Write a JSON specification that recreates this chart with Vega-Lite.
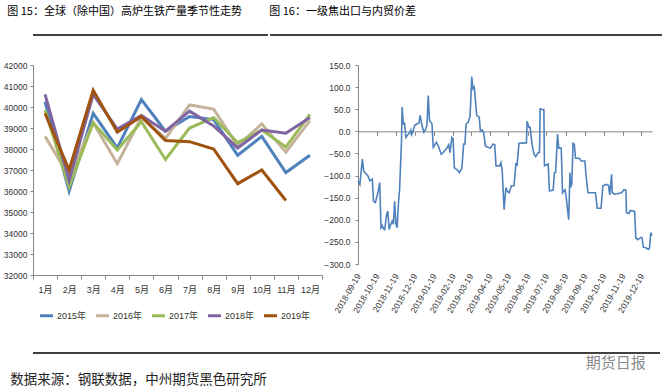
{
  "$schema": "https://vega.github.io/schema/vega-lite/v6.json",
  "background": "white",
  "padding": {"left": 3, "top": 6, "right": 5, "bottom": 4},
  "config": {
    "view": {"stroke": null},
    "font": "Liberation Sans, Noto Sans CJK SC",
    "axis": {"grid": false, "domainColor": "#868686", "tickColor": "#868686", "labelColor": "#333333", "labelFont": "Liberation Sans, Noto Sans CJK SC"}
  },
  "title": {"text": "数据来源：钢联数据，中州期货黑色研究所", "orient": "bottom", "anchor": "start", "font": "Noto Sans CJK SC", "fontSize": 13.5, "fontWeight": "normal", "color": "#222222", "dx": 7, "offset": 2},
  "spacing": 25,
  "align": "none",
  "resolve": {"scale": {"color": "independent"}, "legend": {"color": "independent"}},
  "vconcat": [
    {
      "spacing": 0,
      "hconcat": [
        {
          "width": 235, "height": 1,
          "data": {"values": [{"k": 1}]},
          "title": {"text": "图 15：全球（除中国）高炉生铁产量季节性走势", "anchor": "start", "dx": -25, "offset": 17, "font": "Noto Sans CJK SC", "fontSize": 11, "fontWeight": "normal", "color": "#000000"},
          "mark": {"type": "rule", "color": "#000000", "strokeWidth": 1.5},
          "encoding": {"y": {"datum": 1, "type": "quantitative", "scale": {"domain": [0, 1]}, "axis": null}}
        },
        {
          "width": 392, "height": 1,
          "data": {"values": [{"k": 1}]},
          "title": {"text": "图 16：一级焦出口与内贸价差", "anchor": "start", "dx": 0, "offset": 17, "font": "Noto Sans CJK SC", "fontSize": 11, "fontWeight": "normal", "color": "#000000"},
          "mark": {"type": "rule", "color": "#000000", "strokeWidth": 1.5},
          "encoding": {"y": {"datum": 1, "type": "quantitative", "scale": {"domain": [0, 1]}, "axis": null}}
        }
      ]
    },
    {
      "spacing": 0,
      "resolve": {"scale": {"color": "independent"}, "legend": {"color": "independent"}},
      "hconcat": [
        {
          "width": 289, "height": 210,
          "data": {"values": [
            {"month": "1月", "year": "2015年", "value": 40250}, {"month": "2月", "year": "2015年", "value": 36000}, {"month": "3月", "year": "2015年", "value": 39700}, {"month": "4月", "year": "2015年", "value": 38050}, {"month": "5月", "year": "2015年", "value": 40350}, {"month": "6月", "year": "2015年", "value": 38850}, {"month": "7月", "year": "2015年", "value": 39550}, {"month": "8月", "year": "2015年", "value": 39400}, {"month": "9月", "year": "2015年", "value": 37700}, {"month": "10月", "year": "2015年", "value": 38600}, {"month": "11月", "year": "2015年", "value": 36880}, {"month": "12月", "year": "2015年", "value": 37700},
            {"month": "1月", "year": "2016年", "value": 38600}, {"month": "2月", "year": "2016年", "value": 36700}, {"month": "3月", "year": "2016年", "value": 39250}, {"month": "4月", "year": "2016年", "value": 37300}, {"month": "5月", "year": "2016年", "value": 39500}, {"month": "6月", "year": "2016年", "value": 38500}, {"month": "7月", "year": "2016年", "value": 40100}, {"month": "8月", "year": "2016年", "value": 39900}, {"month": "9月", "year": "2016年", "value": 38150}, {"month": "10月", "year": "2016年", "value": 39200}, {"month": "11月", "year": "2016年", "value": 37850}, {"month": "12月", "year": "2016年", "value": 39350},
            {"month": "1月", "year": "2017年", "value": 39850}, {"month": "2月", "year": "2017年", "value": 36200}, {"month": "3月", "year": "2017年", "value": 39250}, {"month": "4月", "year": "2017年", "value": 37950}, {"month": "5月", "year": "2017年", "value": 39300}, {"month": "6月", "year": "2017年", "value": 37500}, {"month": "7月", "year": "2017年", "value": 39000}, {"month": "8月", "year": "2017年", "value": 39500}, {"month": "9月", "year": "2017年", "value": 38300}, {"month": "10月", "year": "2017年", "value": 38900}, {"month": "11月", "year": "2017年", "value": 38100}, {"month": "12月", "year": "2017年", "value": 39650},
            {"month": "1月", "year": "2018年", "value": 40600}, {"month": "2月", "year": "2018年", "value": 36500}, {"month": "3月", "year": "2018年", "value": 40600}, {"month": "4月", "year": "2018年", "value": 38950}, {"month": "5月", "year": "2018年", "value": 39600}, {"month": "6月", "year": "2018年", "value": 38850}, {"month": "7月", "year": "2018年", "value": 39800}, {"month": "8月", "year": "2018年", "value": 39100}, {"month": "9月", "year": "2018年", "value": 38050}, {"month": "10月", "year": "2018年", "value": 38900}, {"month": "11月", "year": "2018年", "value": 38750}, {"month": "12月", "year": "2018年", "value": 39500},
            {"month": "1月", "year": "2019年", "value": 39700}, {"month": "2月", "year": "2019年", "value": 37000}, {"month": "3月", "year": "2019年", "value": 40800}, {"month": "4月", "year": "2019年", "value": 38800}, {"month": "5月", "year": "2019年", "value": 39550}, {"month": "6月", "year": "2019年", "value": 38400}, {"month": "7月", "year": "2019年", "value": 38350}, {"month": "8月", "year": "2019年", "value": 38000}, {"month": "9月", "year": "2019年", "value": 36350}, {"month": "10月", "year": "2019年", "value": 37000}, {"month": "11月", "year": "2019年", "value": 35550}
          ]},
          "mark": {"type": "line", "strokeWidth": 3},
          "encoding": {
            "x": {"field": "month", "type": "ordinal", "sort": ["1月", "2月", "3月", "4月", "5月", "6月", "7月", "8月", "9月", "10月", "11月", "12月"],
                  "scale": {"type": "band", "paddingInner": 0, "paddingOuter": 0},
                  "axis": {"title": null, "labelAngle": 0, "tickBand": "extent", "tickSize": 4, "labelPadding": 6, "labelFontSize": 9}},
            "y": {"field": "value", "type": "quantitative",
                  "scale": {"domain": [32000, 42000], "nice": false, "zero": false},
                  "axis": {"values": [32000, 33000, 34000, 35000, 36000, 37000, 38000, 39000, 40000, 41000, 42000], "format": "d", "tickSize": 3, "labelPadding": 3, "labelFontSize": 8.5, "title": null}},
            "color": {"field": "year", "type": "nominal",
                      "scale": {"domain": ["2015年", "2016年", "2017年", "2018年", "2019年"], "range": ["#4F81BD", "#C4B39A", "#9BBB59", "#8064A2", "#A0520F"]},
                      "legend": {"orient": "bottom", "direction": "horizontal", "title": null, "symbolType": "stroke", "symbolSize": 170, "symbolStrokeWidth": 3, "labelFontSize": 9, "labelColor": "#333333", "columnPadding": 2, "offset": 8, "labelOffset": 2, "padding": 5}}
          }
        },
        {
          "width": 294, "height": 199,
          "data": {"values": [
            {"date": "2018-09-19", "v": -112}, {"date": "2018-09-22", "v": -120}, {"date": "2018-09-26", "v": -63}, {"date": "2018-09-28", "v": -89}, {"date": "2018-09-30", "v": -93},
            {"date": "2018-10-05", "v": -101}, {"date": "2018-10-08", "v": -112}, {"date": "2018-10-12", "v": -108}, {"date": "2018-10-14", "v": -158}, {"date": "2018-10-17", "v": -161}, {"date": "2018-10-21", "v": -139}, {"date": "2018-10-24", "v": -116}, {"date": "2018-10-26", "v": -218}, {"date": "2018-10-28", "v": -213}, {"date": "2018-10-30", "v": -220},
            {"date": "2018-11-01", "v": -222}, {"date": "2018-11-04", "v": -188}, {"date": "2018-11-06", "v": -180}, {"date": "2018-11-08", "v": -222}, {"date": "2018-11-10", "v": -213}, {"date": "2018-11-13", "v": -203}, {"date": "2018-11-15", "v": -210}, {"date": "2018-11-17", "v": -158}, {"date": "2018-11-19", "v": -210}, {"date": "2018-11-21", "v": -218}, {"date": "2018-11-23", "v": -165}, {"date": "2018-11-25", "v": -130}, {"date": "2018-11-28", "v": -21}, {"date": "2018-11-29", "v": 55},
            {"date": "2018-12-01", "v": 17}, {"date": "2018-12-03", "v": 18}, {"date": "2018-12-05", "v": -14}, {"date": "2018-12-08", "v": -8}, {"date": "2018-12-11", "v": -3}, {"date": "2018-12-13", "v": 3}, {"date": "2018-12-14", "v": -8}, {"date": "2018-12-16", "v": -3}, {"date": "2018-12-19", "v": 13}, {"date": "2018-12-23", "v": 17}, {"date": "2018-12-26", "v": 18}, {"date": "2018-12-28", "v": 36}, {"date": "2018-12-31", "v": 13},
            {"date": "2019-01-03", "v": -2}, {"date": "2019-01-06", "v": 5}, {"date": "2019-01-08", "v": 15}, {"date": "2019-01-10", "v": 81}, {"date": "2019-01-12", "v": 24}, {"date": "2019-01-16", "v": 17}, {"date": "2019-01-18", "v": -36}, {"date": "2019-01-20", "v": -32}, {"date": "2019-01-23", "v": -25}, {"date": "2019-01-26", "v": -32}, {"date": "2019-01-31", "v": -52},
            {"date": "2019-02-03", "v": -48}, {"date": "2019-02-08", "v": -40}, {"date": "2019-02-12", "v": -30}, {"date": "2019-02-14", "v": -48}, {"date": "2019-02-17", "v": -14}, {"date": "2019-02-19", "v": -17}, {"date": "2019-02-21", "v": -82}, {"date": "2019-02-27", "v": -89},
            {"date": "2019-03-01", "v": -93}, {"date": "2019-03-05", "v": -84}, {"date": "2019-03-08", "v": -29}, {"date": "2019-03-10", "v": -29}, {"date": "2019-03-12", "v": 17}, {"date": "2019-03-15", "v": 20}, {"date": "2019-03-18", "v": 32}, {"date": "2019-03-19", "v": 55}, {"date": "2019-03-21", "v": 124}, {"date": "2019-03-23", "v": 96}, {"date": "2019-03-25", "v": 100}, {"date": "2019-03-27", "v": 70}, {"date": "2019-03-29", "v": 36},
            {"date": "2019-04-02", "v": 32}, {"date": "2019-04-04", "v": 0}, {"date": "2019-04-07", "v": 3}, {"date": "2019-04-09", "v": -2}, {"date": "2019-04-12", "v": -33}, {"date": "2019-04-16", "v": -36}, {"date": "2019-04-20", "v": -38}, {"date": "2019-04-24", "v": -29}, {"date": "2019-04-27", "v": -30}, {"date": "2019-04-29", "v": -78},
            {"date": "2019-05-05", "v": -78}, {"date": "2019-05-07", "v": -71}, {"date": "2019-05-09", "v": -89}, {"date": "2019-05-12", "v": -177}, {"date": "2019-05-15", "v": -127}, {"date": "2019-05-17", "v": -135}, {"date": "2019-05-20", "v": -139}, {"date": "2019-05-24", "v": -123}, {"date": "2019-05-28", "v": -123}, {"date": "2019-05-31", "v": -74},
            {"date": "2019-06-02", "v": -76}, {"date": "2019-06-05", "v": -27}, {"date": "2019-06-14", "v": -26}, {"date": "2019-06-17", "v": -26}, {"date": "2019-06-18", "v": 23}, {"date": "2019-06-21", "v": 9}, {"date": "2019-06-23", "v": 9}, {"date": "2019-06-26", "v": -29}, {"date": "2019-06-29", "v": -51},
            {"date": "2019-07-02", "v": -57}, {"date": "2019-07-06", "v": -48}, {"date": "2019-07-08", "v": -48}, {"date": "2019-07-09", "v": 51}, {"date": "2019-07-14", "v": 49}, {"date": "2019-07-15", "v": 49}, {"date": "2019-07-16", "v": -78}, {"date": "2019-07-22", "v": -74}, {"date": "2019-07-24", "v": -135}, {"date": "2019-07-30", "v": -133},
            {"date": "2019-08-01", "v": -93}, {"date": "2019-08-03", "v": -93}, {"date": "2019-08-06", "v": -6}, {"date": "2019-08-08", "v": -38}, {"date": "2019-08-12", "v": -38}, {"date": "2019-08-14", "v": -139}, {"date": "2019-08-16", "v": -135}, {"date": "2019-08-18", "v": -132}, {"date": "2019-08-20", "v": -150}, {"date": "2019-08-24", "v": -200}, {"date": "2019-08-26", "v": -93}, {"date": "2019-08-27", "v": -127}, {"date": "2019-08-29", "v": -118}, {"date": "2019-08-31", "v": -27},
            {"date": "2019-09-02", "v": -29}, {"date": "2019-09-04", "v": -61}, {"date": "2019-09-10", "v": -61}, {"date": "2019-09-13", "v": -67}, {"date": "2019-09-19", "v": -67}, {"date": "2019-09-21", "v": -101}, {"date": "2019-09-24", "v": -139},
            {"date": "2019-10-06", "v": -139}, {"date": "2019-10-09", "v": -174}, {"date": "2019-10-15", "v": -174}, {"date": "2019-10-18", "v": -123}, {"date": "2019-10-23", "v": -120}, {"date": "2019-10-27", "v": -122}, {"date": "2019-10-29", "v": -144},
            {"date": "2019-11-01", "v": -97}, {"date": "2019-11-02", "v": -139}, {"date": "2019-11-06", "v": -142}, {"date": "2019-11-10", "v": -141}, {"date": "2019-11-17", "v": -139}, {"date": "2019-11-21", "v": -132}, {"date": "2019-11-24", "v": -133}, {"date": "2019-11-25", "v": -184}, {"date": "2019-11-29", "v": -186},
            {"date": "2019-12-01", "v": -179}, {"date": "2019-12-08", "v": -181}, {"date": "2019-12-10", "v": -241}, {"date": "2019-12-13", "v": -245}, {"date": "2019-12-18", "v": -240}, {"date": "2019-12-20", "v": -240}, {"date": "2019-12-22", "v": -262}, {"date": "2019-12-27", "v": -264}, {"date": "2019-12-30", "v": -267},
            {"date": "2020-01-01", "v": -264}, {"date": "2020-01-03", "v": -229}, {"date": "2020-01-05", "v": -236}
          ]},
          "resolve": {"axis": {"x": "independent"}},
          "layer": [
            {
              "mark": {"type": "line", "strokeWidth": 1.6, "color": "#4F81BD"},
              "encoding": {
                "x": {"field": "date", "type": "temporal",
                      "scale": {"type": "utc", "domain": [{"year": 2018, "month": 9, "date": 19, "utc": true}, {"year": 2020, "month": 1, "date": 5, "utc": true}]},
                      "axis": {"title": null, "domain": false, "ticks": false, "labelAngle": -60, "labelAlign": "right", "labelBaseline": "middle", "labelPadding": 10, "labelFontSize": 8.5, "labelOverlap": false, "labelBound": false, "labelFlush": false, "format": "%Y-%m-%d",
                               "values": [{"year": 2018, "month": 9, "date": 19, "utc": true}, {"year": 2018, "month": 10, "date": 19, "utc": true}, {"year": 2018, "month": 11, "date": 19, "utc": true}, {"year": 2018, "month": 12, "date": 19, "utc": true}, {"year": 2019, "month": 1, "date": 19, "utc": true}, {"year": 2019, "month": 2, "date": 19, "utc": true}, {"year": 2019, "month": 3, "date": 19, "utc": true}, {"year": 2019, "month": 4, "date": 19, "utc": true}, {"year": 2019, "month": 5, "date": 19, "utc": true}, {"year": 2019, "month": 6, "date": 19, "utc": true}, {"year": 2019, "month": 7, "date": 19, "utc": true}, {"year": 2019, "month": 8, "date": 19, "utc": true}, {"year": 2019, "month": 9, "date": 19, "utc": true}, {"year": 2019, "month": 10, "date": 19, "utc": true}, {"year": 2019, "month": 11, "date": 19, "utc": true}, {"year": 2019, "month": 12, "date": 19, "utc": true}]}},
                "y": {"field": "v", "type": "quantitative",
                      "scale": {"domain": [-300, 150], "nice": false, "zero": false},
                      "axis": {"title": null, "values": [-300, -250, -200, -150, -100, -50, 0, 50, 100, 150], "format": ".1f", "tickSize": 3, "labelPadding": 5, "labelFontSize": 8.5}}
              }
            },
            {
              "mark": {"type": "line", "strokeOpacity": 0},
              "encoding": {
                "x": {"field": "date", "type": "temporal",
                      "axis": {"title": null, "orient": "bottom", "offset": -132.67, "labels": false, "ticks": true, "tickSize": 4, "domain": true,
                               "values": [{"year": 2018, "month": 9, "date": 19, "utc": true}, {"year": 2018, "month": 10, "date": 19, "utc": true}, {"year": 2018, "month": 11, "date": 19, "utc": true}, {"year": 2018, "month": 12, "date": 19, "utc": true}, {"year": 2019, "month": 1, "date": 19, "utc": true}, {"year": 2019, "month": 2, "date": 19, "utc": true}, {"year": 2019, "month": 3, "date": 19, "utc": true}, {"year": 2019, "month": 4, "date": 19, "utc": true}, {"year": 2019, "month": 5, "date": 19, "utc": true}, {"year": 2019, "month": 6, "date": 19, "utc": true}, {"year": 2019, "month": 7, "date": 19, "utc": true}, {"year": 2019, "month": 8, "date": 19, "utc": true}, {"year": 2019, "month": 9, "date": 19, "utc": true}, {"year": 2019, "month": 10, "date": 19, "utc": true}, {"year": 2019, "month": 11, "date": 19, "utc": true}, {"year": 2019, "month": 12, "date": 19, "utc": true}]}},
                "y": {"field": "v", "type": "quantitative",
                      "axis": {"title": null, "values": [-300, -250, -200, -150, -100, -50, 0, 50, 100, 150], "format": ".1f", "tickSize": 3, "labelPadding": 5, "labelFontSize": 8.5}}
              }
            }
          ]
        }
      ]
    },
    {
      "width": 627, "height": 1,
      "data": {"values": [{"k": 1}]},
      "title": {"text": "期货日报", "orient": "bottom", "anchor": "end", "dx": -15, "offset": 2, "font": "Noto Sans CJK SC", "fontSize": 15, "fontWeight": "normal", "color": "#8a8a8a"},
      "mark": {"type": "rule", "color": "#000000", "strokeWidth": 1.5},
      "encoding": {"y": {"datum": 1, "type": "quantitative", "scale": {"domain": [0, 1]}, "axis": null}}
    }
  ]
}
